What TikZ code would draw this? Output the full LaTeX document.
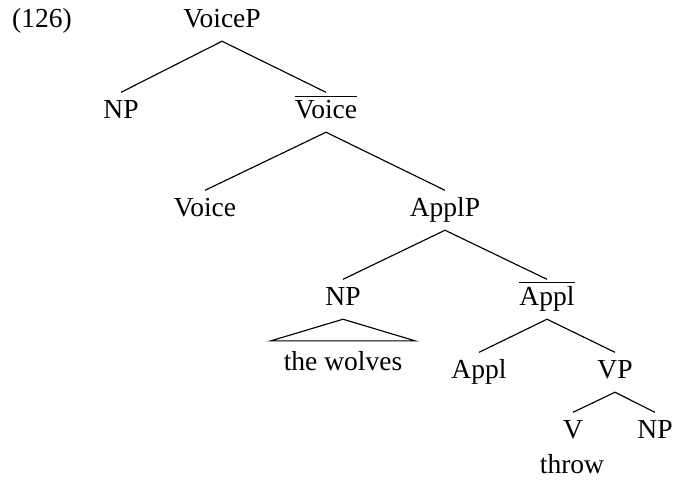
\documentclass[tikz,border=0pt]{standalone}
\usepackage{fontspec}
\setmainfont{Liberation Serif}
\usepackage{tikz}

\tikzset{
  cat/.style={font=\fontsize{12}{14}\selectfont, anchor=base, inner sep=3pt, text height=8pt, text depth=3pt},
  branch/.style={line width=0.5pt}
}

\begin{document}
\begin{tikzpicture}[x=0.436pt,y=-0.436pt]
       \useasboundingbox (0,0) rectangle (674,479);
        \node[cat] (ex) at (42,27) {(126)};%例文番号
       \node[cat] (VoiceP) at (222,27) {VoiceP};
       \node[cat] (NPa) at (121,118) {NP};
       \node[cat] (Voicebar) at (326,118) {$\overline{\mbox{Voice}}$};
       \node[cat] (Voice) at (205,216) {Voice};
       \node[cat] (ApplP) at (445,216) {ApplP};
       \node[cat] (NPb) at (343,305) {NP};
       \node[cat] (Applbar) at (547,305) {$\overline{\mbox{Appl}}$};
       \node[cat, inner xsep=5.5pt, inner ysep=4.5pt] (wolves) at (343,370) {the wolves};
       \node[cat] (Appl) at (479,378) {Appl};
       \node[cat] (VP) at (615,378) {VP};
       \node[cat] (V) at (573,438) {V};
       \node[cat] (NPc) at (655,438) {NP};
       \node[cat] (throw) at (572,473) {throw};

        \draw[branch](VoiceP.south)--(NPa.north);
        \draw[branch](VoiceP.south)--(Voicebar.north);
        \draw[branch](Voicebar.south)--(Voice.north);
        \draw[branch](Voicebar.south)--(ApplP.north);
        \draw[branch](ApplP.south)--(NPb.north);
        \draw[branch](ApplP.south)--(Applbar.north);
        \draw[branch](NPb.south)--(wolves.north west)--(wolves.north east)--cycle;%三角形
        \draw[branch](Applbar.south)--(Appl.north);
        \draw[branch](Applbar.south)--(VP.north);
        \draw[branch](VP.south)--(V.north);
        \draw[branch](VP.south)--(NPc.north);
      \end{tikzpicture}
\end{document}
